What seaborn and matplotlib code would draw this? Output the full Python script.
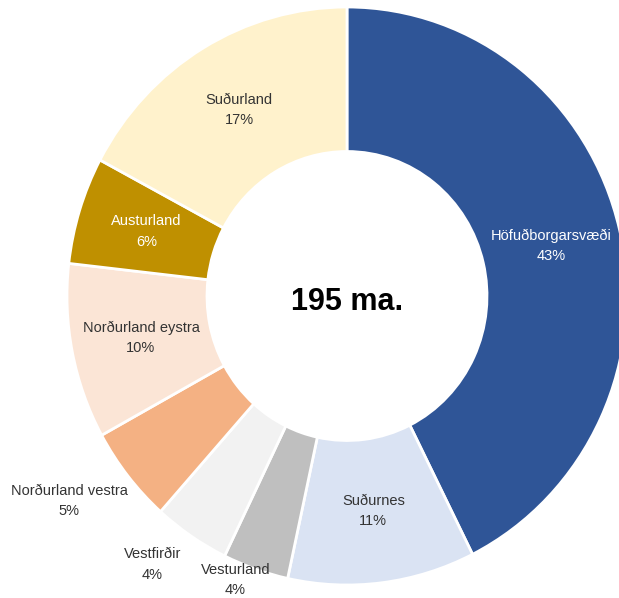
import numpy as np
import matplotlib
matplotlib.use('Agg')
import matplotlib.pyplot as plt
import seaborn as sns

# landshlutar, byrjar kl. 12 og fer réttsælis
regions = ['Höfuðborgarsvæði', 'Suðurnes', 'Vesturland', 'Vestfirðir',
           'Norðurland vestra', 'Norðurland eystra', 'Austurland', 'Suðurland']
shares = [42.6, 10.8, 3.8, 4.4, 5.4, 9.8, 6.0, 17.2]
total_label = '195 ma.'
colors = ['#2F5597', '#DAE3F3', '#BFBFBF', '#F2F2F2',
          '#F4B183', '#FBE5D6', '#BF9000', '#FFF2CC']
text_colors = ['white', '#333333', '#333333', '#333333',
               '#333333', '#333333', 'white', '#333333']
# litlu sneiðarnar fá merki utan hringsins (radíus)
outside = {'Vesturland': 1.06, 'Vestfirðir': 1.16, 'Norðurland vestra': 1.22}

sns.set_theme(style='white')
plt.rcParams['font.family'] = ['Liberation Sans', 'DejaVu Sans']

fig = plt.figure(figsize=(6.19, 5.98), dpi=100)
ax = fig.add_axes([0, 0, 1, 1])

ring = 0.5
wedges, _ = ax.pie(shares, colors=colors, startangle=90, counterclock=False,
                   radius=1, wedgeprops=dict(width=ring, edgecolor='white', linewidth=2))

for w, name, val, tc in zip(wedges, regions, shares, text_colors):
    mid = (w.theta1 + w.theta2) / 2
    if name in outside:
        r = outside[name]
        mid -= 3
    else:
        r = 1 - ring / 2
    mid = np.deg2rad(mid)
    lbl = f'{name}\n{val:.0f}%'
    ax.text(r * np.cos(mid), r * np.sin(mid), lbl, ha='center', va='center',
            fontsize=10.5, color=tc, linespacing=1.6)

ax.text(0, -0.02, total_label, ha='center', va='center', fontsize=22,
        fontweight='bold', color='black')

# hringurinn er örlítið teygður lóðrétt í frumritinu
ax.set_aspect('auto')
ax.set_xlim(-347 / 280, (619 - 347) / 280)
ax.set_ylim(-(598 - 296) / 289, 296 / 289)
ax.axis('off')

fig.savefig('out.png', dpi=100)
